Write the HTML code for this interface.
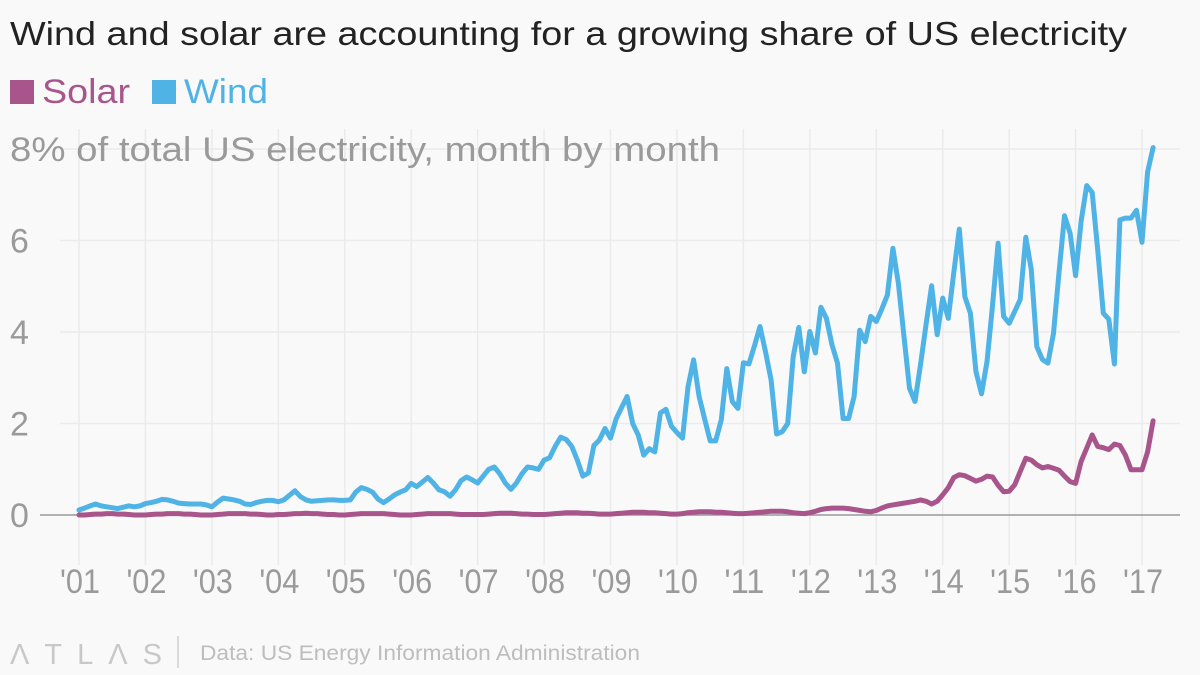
<!DOCTYPE html>
<html><head><meta charset="utf-8"><style>
html,body{margin:0;padding:0;background:#f9f9f9;}
svg{display:block;font-family:"Liberation Sans",sans-serif;}
</style></head><body>
<svg id="chart" width="1200" height="675" viewBox="0 0 1200 675">
<rect width="1200" height="675" fill="#f9f9f9"/>
<text x="10" y="45" font-size="33" fill="#222" textLength="1117" lengthAdjust="spacingAndGlyphs">Wind and solar are accounting for a growing share of US electricity</text>
<g>
<g><rect x="10" y="80" width="24" height="24" fill="#a8558c"/><text x="42" y="103" font-size="34" fill="#a8558c" textLength="88" lengthAdjust="spacingAndGlyphs">Solar</text></g>
<g><rect x="152" y="80" width="24" height="24" fill="#4fb3e6"/><text x="184" y="103" font-size="34" fill="#4fb3e6" textLength="84" lengthAdjust="spacingAndGlyphs">Wind</text></g>
</g>
<g id="grid"></g>
<g id="yaxis"></g>
<g id="xaxis"></g>
<g id="series"></g>
<g>
<text x="10" y="664" font-size="29" fill="#c8c8c8" letter-spacing="15">ΛTLΛS</text>
<line x1="178" y1="636" x2="178" y2="668" stroke="#d0d0d0" stroke-width="1.5"/>
<text x="200" y="660" font-size="21" fill="#bdbdbd" textLength="440" lengthAdjust="spacingAndGlyphs">Data: US Energy Information Administration</text>
</g>
</svg>
<script>
const yTicks=[0,2,4,6,8];
const yTickLabels=["0","2","4","6","8% of total US electricity, month by month"];
const xYears=["'01","'02","'03","'04","'05","'06","'07","'08","'09","'10","'11","'12","'13","'14","'15","'16","'17"];
const wind=[0.11,0.15,0.2,0.24,0.2,0.18,0.16,0.14,0.17,0.2,0.18,0.2,
0.25,0.27,0.3,0.34,0.33,0.3,0.26,0.25,0.24,0.24,0.24,0.22,
0.18,0.28,0.37,0.35,0.33,0.3,0.24,0.23,0.27,0.3,0.32,0.32,
0.29,0.33,0.43,0.53,0.4,0.33,0.3,0.31,0.32,0.33,0.33,0.32,
0.32,0.33,0.5,0.6,0.56,0.5,0.35,0.27,0.35,0.44,0.5,0.55,
0.69,0.62,0.72,0.82,0.7,0.55,0.51,0.41,0.55,0.75,0.83,0.77,
0.7,0.85,1.0,1.05,0.9,0.7,0.56,0.7,0.9,1.05,1.03,1.0,
1.2,1.25,1.5,1.7,1.65,1.5,1.2,0.85,0.92,1.52,1.64,1.89,
1.68,2.1,2.35,2.59,2.0,1.75,1.31,1.45,1.38,2.23,2.31,1.94,
1.8,1.68,2.8,3.39,2.59,2.1,1.62,1.62,2.08,3.2,2.48,2.33,
3.33,3.3,3.7,4.12,3.57,2.95,1.77,1.82,2.0,3.46,4.1,3.13,
4.01,3.54,4.54,4.3,3.72,3.32,2.11,2.11,2.59,4.04,3.79,4.34,
4.23,4.5,4.81,5.83,5.06,3.9,2.77,2.48,3.3,4.17,5.01,3.94,
4.74,4.3,5.3,6.25,4.77,4.41,3.14,2.65,3.35,4.6,5.94,4.34,
4.19,4.45,4.71,6.07,5.36,3.68,3.4,3.32,3.97,5.3,6.54,6.16,
5.23,6.42,7.2,7.05,5.8,4.41,4.28,3.3,6.45,6.49,6.49,6.66,
5.96,7.5,8.03];
const solar=[0.0,0.0,0.01,0.02,0.02,0.03,0.03,0.02,0.02,0.01,0.0,0.0,
0.0,0.01,0.02,0.02,0.03,0.03,0.03,0.02,0.02,0.01,0.0,0.0,
0.0,0.01,0.02,0.03,0.03,0.03,0.03,0.02,0.02,0.01,0.0,0.0,
0.01,0.01,0.02,0.03,0.03,0.04,0.03,0.03,0.02,0.01,0.01,0.0,
0.0,0.01,0.02,0.03,0.03,0.03,0.03,0.03,0.02,0.01,0.0,0.0,
0.0,0.01,0.02,0.03,0.03,0.03,0.03,0.03,0.02,0.01,0.01,0.01,
0.01,0.01,0.02,0.03,0.04,0.04,0.04,0.03,0.02,0.02,0.01,0.01,
0.01,0.02,0.03,0.04,0.05,0.05,0.05,0.04,0.04,0.03,0.02,0.02,
0.02,0.03,0.04,0.05,0.06,0.06,0.06,0.05,0.05,0.04,0.03,0.02,
0.02,0.03,0.05,0.06,0.07,0.07,0.07,0.06,0.06,0.05,0.04,0.03,
0.03,0.04,0.05,0.06,0.07,0.08,0.08,0.08,0.07,0.05,0.04,0.03,
0.05,0.08,0.12,0.14,0.15,0.15,0.15,0.14,0.12,0.1,0.08,0.07,
0.1,0.15,0.2,0.22,0.24,0.26,0.28,0.3,0.33,0.3,0.24,0.3,
0.44,0.6,0.82,0.88,0.86,0.8,0.74,0.78,0.85,0.83,0.65,0.51,
0.52,0.66,0.95,1.24,1.2,1.1,1.03,1.06,1.02,0.98,0.85,0.73,
0.69,1.17,1.46,1.75,1.5,1.47,1.43,1.55,1.52,1.31,0.99,0.99,
0.99,1.38,2.06];

const NS="http://www.w3.org/2000/svg";
const X0=79, YEARW=66.44, Y0=515, UNIT=45.75;
function xScale(monthIndex){return X0+monthIndex*YEARW/12;}
function yScale(v){return Y0-v*UNIT;}
function mk(tag,attrs,parent){const e=document.createElementNS(NS,tag);for(const k in attrs)e.setAttribute(k,attrs[k]);parent.appendChild(e);return e;}
const grid=document.getElementById('grid'),yax=document.getElementById('yaxis'),xax=document.getElementById('xaxis'),ser=document.getElementById('series');

xYears.forEach((lab,i)=>{
  const x=xScale(i*12);
  const l=mk('line',{x1:x,x2:x,y1:yScale(8)-20,y2:565,stroke:'#ebebeb','stroke-width':1.5},grid);
  
  
  const t=mk('text',{x:x+1,y:593,'font-size':34,fill:'#9a9a9a','text-anchor':'middle',textLength:40,lengthAdjust:'spacingAndGlyphs'},xax);
  
  
  t.textContent=lab;
});
yTicks.forEach((v,i)=>{
  const y=yScale(v);
  if(v!==0){
    const l=mk('line',{x1:60,x2:1180,y1:y,y2:y,stroke:'#ebebeb','stroke-width':1.5},grid);
    
    
  }
  const t=mk('text',{x:10,y:y+12,'font-size':34,fill:'#9a9a9a'},yax);
  if(i===yTicks.length-1){t.setAttribute('textLength','710');t.setAttribute('lengthAdjust','spacingAndGlyphs');}
  
  
  t.textContent=yTickLabels[i];
});
const zl=mk('line',{x1:40,x2:1180,y1:yScale(0),y2:yScale(0),stroke:'#999','stroke-width':1.5},grid);



function drawLine(data,color,name){
  const d=data.map((v,i)=>(i?'L':'M')+xScale(i).toFixed(1)+','+yScale(v).toFixed(1)).join(' ');
  const p=mk('path',{d:d,fill:'none',stroke:color,'stroke-width':5,'stroke-linejoin':'round','stroke-linecap':'round'},ser);
  
  
}
drawLine(wind,'#4fb3e6','wind-line');
drawLine(solar,'#a8558c','solar-line');
</script>
</body></html>
